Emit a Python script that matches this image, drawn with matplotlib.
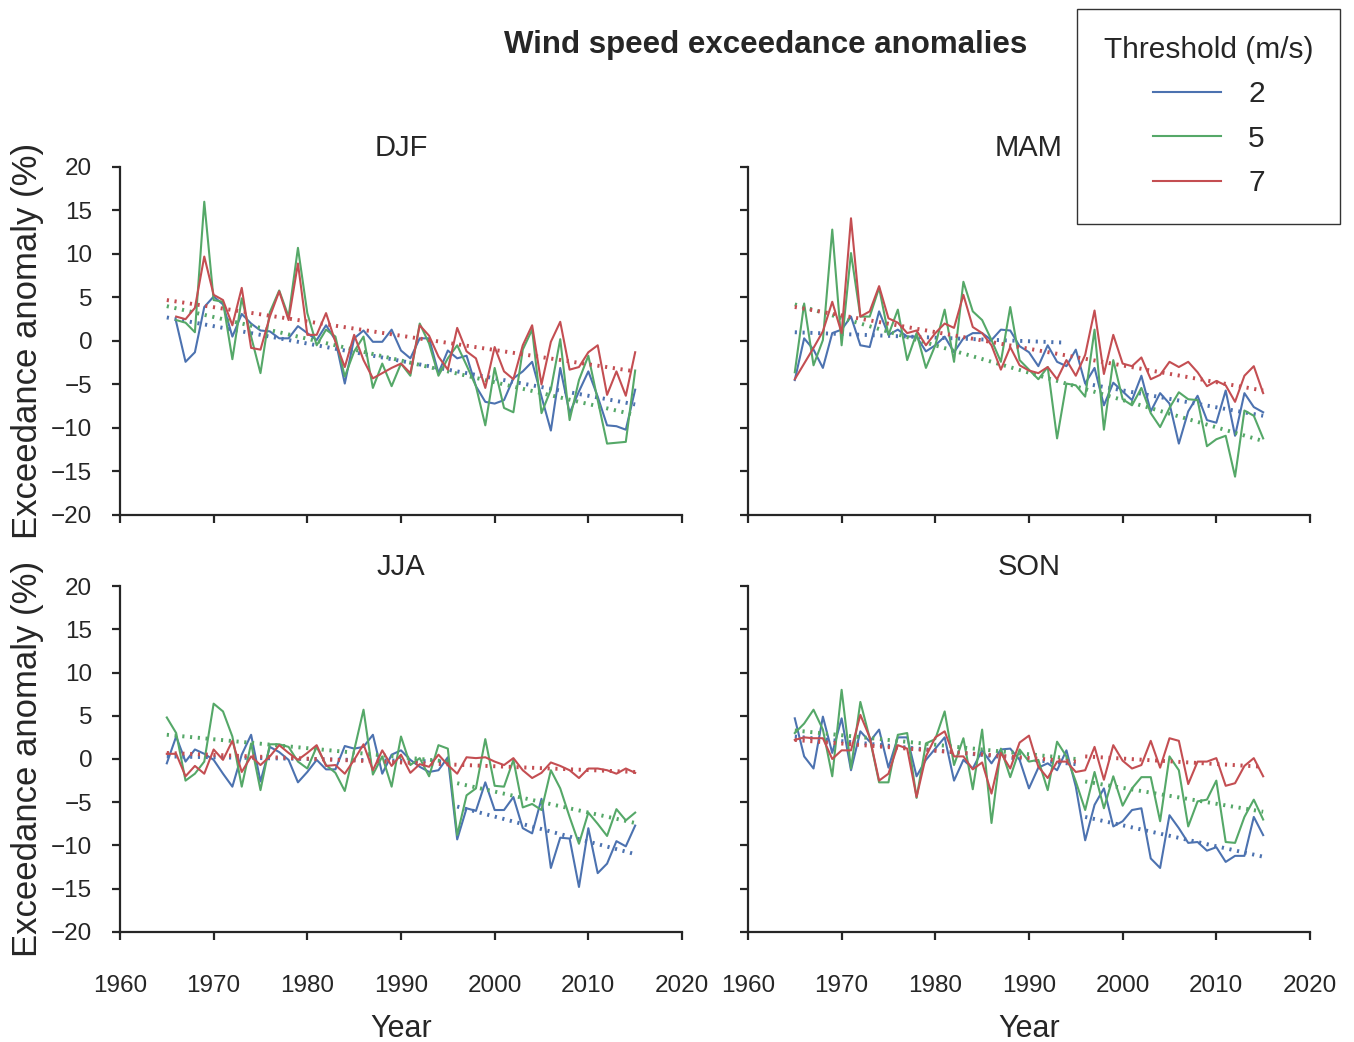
import numpy as np
import matplotlib
matplotlib.use('Agg')
import matplotlib.pyplot as plt

plt.rcParams['font.family'] = ['Liberation Sans', 'DejaVu Sans']
plt.rcParams['axes.unicode_minus'] = True

years = np.arange(1965, 2016)
djf_years = np.arange(1966, 2016)

# anomalies (%), thresholds 2, 5 and 7 m/s
djf_2 = [2.2, -2.4, -1.3, 3.9, 5.1, 4.2, 0.5, 3.1, 2.0, 1.2,
         1.1, 0.3, 0.3, 1.7, 0.9, 0.1, 1.8, 0.1, -4.9, 0.3,
         1.2, -0.1, -0.1, 1.3, -1.1, -2.0, 0.3, 0.3, -3.7, -1.1,
         -2.0, -1.7, -5.2, -7.0, -7.2, -6.8, -4.3, -3.5, -2.4, -6.4,
         -10.3, -3.1, -8.3, -5.8, -3.5, -6.4, -9.7, -9.8, -10.2, -5.6]
djf_5 = [2.4, 2.1, 1.0, 16.0, 4.7, 4.5, -2.1, 4.9, 0.5, -3.7,
         3.3, 5.8, 2.8, 10.7, 3.2, -0.5, 1.3, 0.5, -4.1, -1.2,
         0.5, -5.4, -2.6, -5.2, -2.6, -4.0, 2.0, -0.3, -4.0, -2.0,
         -0.5, -2.8, -5.2, -9.7, -3.1, -7.7, -8.2, -1.0, 1.3, -8.3,
         -5.6, 0.2, -9.1, -4.5, -1.7, -6.8, -11.8, -11.7, -11.6, -3.4]
djf_7 = [2.8, 2.5, 3.8, 9.7, 5.3, 4.7, 1.8, 6.1, -0.8, -1.0,
         2.8, 5.7, 2.4, 8.9, 0.7, 0.7, 3.2, -0.1, -3.0, 0.7,
         -2.2, -4.3, -3.7, -3.1, -2.6, -3.7, 1.8, 0.6, -1.8, -3.3,
         1.5, -1.2, -2.0, -5.4, -0.7, -3.5, -4.4, -0.5, 1.8, -5.0,
         -0.1, 2.2, -3.3, -3.0, -1.3, -0.5, -6.2, -3.5, -6.3, -1.3]

mam_2 = [-4.5, 0.3, -1.0, -3.1, 0.9, 1.3, 2.8, -0.5, -0.7, 3.4,
         0.7, 1.3, 0.5, 0.5, -1.2, -0.5, 0.5, -1.3, 0.3, 0.9,
         0.9, 0.1, 1.3, 1.2, -0.6, -1.3, -2.9, -0.5, -2.4, -2.9,
         -1.0, -4.9, -3.1, -7.4, -4.8, -5.8, -6.8, -4.0, -8.1, -6.0,
         -7.2, -11.8, -8.1, -6.3, -9.1, -9.4, -5.7, -10.9, -6.0, -7.6, -8.2]
mam_5 = [-3.6, 4.3, -2.8, 0.1, 12.8, -0.5, 10.1, 2.8, 2.8, 6.1,
         0.7, 3.6, -2.2, 0.9, -3.1, -0.5, 3.6, -2.4, 6.8, 3.4,
         2.4, 0.1, -2.4, 3.9, -2.2, -3.3, -4.4, -3.0, -11.2, -4.9,
         -5.1, -6.4, 1.3, -10.2, -2.2, -6.7, -7.4, -5.4, -8.3, -9.9,
         -7.7, -5.9, -6.7, -6.8, -12.1, -11.3, -10.9, -15.6, -8.0, -8.6, -11.2]
mam_7 = [-4.4, -2.6, -0.8, 1.1, 4.5, 0.9, 14.1, 2.8, 3.4, 6.3,
         2.6, 2.1, 0.9, 1.2, -0.5, 0.9, 2.0, 1.5, 5.3, 1.6,
         0.9, -0.5, -3.3, -0.7, -2.8, -3.4, -3.7, -3.0, -4.4, -2.2,
         -4.0, -1.6, 3.5, -3.8, 0.7, -2.6, -2.9, -1.9, -4.4, -3.9,
         -2.4, -3.0, -2.4, -3.6, -5.2, -4.6, -5.1, -7.0, -4.0, -2.9, -6.0]

jja_2 = [-0.5, 2.6, -0.3, 1.1, 0.6, -0.1, -1.7, -3.2, 0.5, 2.8,
         -2.6, 1.4, 0.8, -0.1, -2.7, -1.5, -0.1, -1.2, -1.2, 1.5,
         1.2, 1.4, 2.8, -1.7, 0.5, 1.0, -0.1, -0.9, -1.5, -1.3,
         0.2, -9.3, -5.7, -6.0, -2.7, -5.9, -5.9, -4.4, -8.0, -8.6,
         -4.6, -12.6, -9.1, -9.2, -14.8, -8.0, -13.2, -12.1, -9.5, -10.1, -7.7]
jja_5 = [4.8, 3.0, -2.5, -1.7, -0.3, 6.4, 5.5, 2.6, -3.2, 1.8,
         -3.6, 1.7, 1.7, 1.4, -0.3, -1.1, 1.4, -0.7, -1.6, -3.7,
         1.0, 5.7, -1.8, 0.3, -3.2, 2.6, -0.7, 0.1, -2.0, 1.6,
         1.2, -8.8, -4.2, -3.4, 2.3, -3.1, -3.2, -0.1, -5.6, -5.2,
         -5.9, -1.3, -3.4, -6.7, -9.8, -6.2, -7.5, -8.9, -5.8, -7.1, -6.2]
jja_7 = [0.6, 0.6, -2.0, -0.8, -1.7, 1.1, -0.1, 2.1, -1.5, 0.3,
         -0.7, 0.3, 1.6, 0.7, -0.1, 0.7, 1.6, -0.8, -0.7, -1.7,
         -0.1, 1.7, -1.3, 1.0, -0.8, 0.5, -1.6, -0.6, -0.9, 0.5,
         -0.7, -1.7, 0.2, 0.1, 0.2, -0.3, -0.7, 0.1, -1.3, -2.2,
         -1.6, -0.4, -0.8, -1.3, -2.2, -1.1, -1.1, -1.3, -1.7, -1.1, -1.6]

son_2 = [4.7, 0.3, -1.1, 4.9, 0.7, 4.7, -1.3, 3.2, 2.0, 3.4,
         -1.0, 2.5, 2.5, -2.0, -0.1, 1.2, 2.5, -2.5, -0.1, -1.1,
         1.0, -0.5, 1.1, 1.2, -0.1, -3.4, -1.0, -0.5, -1.3, 1.0,
         -3.2, -9.4, -5.3, -3.4, -7.8, -7.2, -5.9, -5.7, -11.5, -12.6,
         -6.5, -8.0, -9.7, -9.6, -10.6, -10.2, -11.9, -11.2, -11.2, -6.7, -8.8]
son_5 = [3.0, 4.1, 5.7, 3.4, -2.0, 8.0, -1.1, 6.6, 2.4, -2.7,
         -2.7, 2.8, 3.0, -4.5, 1.8, 2.3, 5.5, -0.7, 2.4, -3.5,
         3.4, -7.4, 1.2, -2.1, 1.1, -0.3, -0.1, -3.6, 2.0, 0.3,
         -2.6, -5.9, -1.5, -5.7, -2.0, -5.4, -3.4, -2.1, -2.1, -7.2,
         0.3, -1.3, -7.8, -4.9, -4.7, -2.5, -9.6, -9.7, -6.7, -4.7, -7.0]
son_7 = [2.2, 2.5, 2.4, 2.4, 0.0, 1.0, 1.0, 5.1, 2.5, -2.5,
         -1.7, 1.6, 1.2, -4.4, 0.3, 2.5, 3.2, 0.3, 0.3, -1.2,
         -0.4, -4.0, 0.7, -1.1, 1.9, 2.7, -0.9, -2.2, -0.3, -0.3,
         -1.5, -1.3, 1.4, -2.4, 1.6, -0.2, -1.1, -0.7, 2.1, -1.0,
         2.4, 2.1, -2.9, -0.3, -0.3, 0.1, -3.1, -2.8, -0.8, 0.1, -2.0]

# fitted trends: (start year, end year, start value, end value) per segment
djf_trend_2 = [(1965, 2015, 2.7, -7.3)]
djf_trend_5 = [(1965, 2015, 4.0, -8.5)]
djf_trend_7 = [(1965, 2015, 4.7, -3.5)]
mam_trend_2 = [(1965, 1994, 1.0, -0.2), (1996, 2015, -4.9, -8.6)]
mam_trend_5 = [(1965, 2015, 4.2, -11.5)]
mam_trend_7 = [(1965, 2015, 3.9, -5.7)]
jja_trend_2 = [(1965, 1995, 0.3, -0.3), (1996, 2015, -5.5, -11.0)]
jja_trend_5 = [(1965, 1995, 2.8, -0.3), (1996, 2015, -2.8, -7.4)]
jja_trend_7 = [(1965, 2015, 0.7, -1.5)]
son_trend_2 = [(1965, 1995, 2.6, -0.6), (1996, 2015, -6.7, -11.3)]
son_trend_5 = [(1965, 1995, 3.3, 0.0), (1996, 2015, -2.6, -6.1)]
son_trend_7 = [(1965, 1995, 2.2, -0.3), (1996, 2015, 0.3, -0.9)]

thresholds = ['2', '5', '7']
colors = ['#4C72B0', '#55A868', '#C44E52']

panels = [
    ('DJF', djf_years, [djf_2, djf_5, djf_7], [djf_trend_2, djf_trend_5, djf_trend_7]),
    ('MAM', years, [mam_2, mam_5, mam_7], [mam_trend_2, mam_trend_5, mam_trend_7]),
    ('JJA', years, [jja_2, jja_5, jja_7], [jja_trend_2, jja_trend_5, jja_trend_7]),
    ('SON', years, [son_2, son_5, son_7], [son_trend_2, son_trend_5, son_trend_7]),
]
rects = [[0.0886, 0.5058, 0.4151, 0.334], [0.5524, 0.5058, 0.4151, 0.334],
         [0.0886, 0.1056, 0.4151, 0.332], [0.5524, 0.1056, 0.4151, 0.332]]

dark = '#262626'
fig = plt.figure(figsize=(13.54, 10.42), dpi=100)

handles = []
for i, (name, x, series, trends) in enumerate(panels):
    ax = fig.add_axes(rects[i])
    for vals, segs, c, lab in zip(series, trends, colors, thresholds):
        line, = ax.plot(x, vals, color=c, lw=1.5, label=lab)
        if i == 0:
            handles.append(line)
        for x0, x1, y0, y1 in segs:
            ax.plot([x0, x1], [y0, y1], color=c, lw=2.8, ls=(0, (0.55, 1.45)))
    ax.set_xlim(1960, 2020)
    ax.set_ylim(-20, 20)
    ax.set_xticks(np.arange(1960, 2021, 10))
    ax.set_yticks(np.arange(-20, 21, 5))
    for side in ['top', 'right']:
        ax.spines[side].set_visible(False)
    for side in ['left', 'bottom']:
        ax.spines[side].set_color(dark)
        ax.spines[side].set_linewidth(1.6)
    ax.tick_params(direction='out', length=6, width=1.6, color=dark,
                   labelcolor=dark, labelsize=17.5)
    ax.tick_params(axis='y', pad=14)
    ax.tick_params(axis='x', pad=25)
    ax.set_title(name, fontsize=21, color=dark, pad=8)
    if i % 2 == 0:
        ax.set_ylabel('Exceedance anomaly (%)', fontsize=25, color=dark, labelpad=5)
    else:
        ax.tick_params(labelleft=False)
    if i >= 2:
        ax.set_xlabel('Year', fontsize=22, color=dark, labelpad=12)
    else:
        ax.tick_params(labelbottom=False)

fig.text(0.5657, 0.957, 'Wind speed exceedance anomalies', ha='center', va='center',
         fontsize=22.5, fontweight='bold', color=dark)

leg = fig.legend(handles, thresholds, title='Threshold (m/s)', loc='upper left',
                 bbox_to_anchor=(0.7954, 0.9914), borderaxespad=0, frameon=True,
                 fancybox=False, edgecolor='black', alignment='center',
                 handlelength=2.3, handletextpad=0.9, labelspacing=0.55, borderpad=0.9,
                 fontsize=21.5, title_fontsize=21.5)
leg.get_frame().set_linewidth(1.0)
for t in leg.get_texts():
    t.set_color(dark)
leg.get_title().set_color(dark)

fig.savefig('out.png', dpi=100)
